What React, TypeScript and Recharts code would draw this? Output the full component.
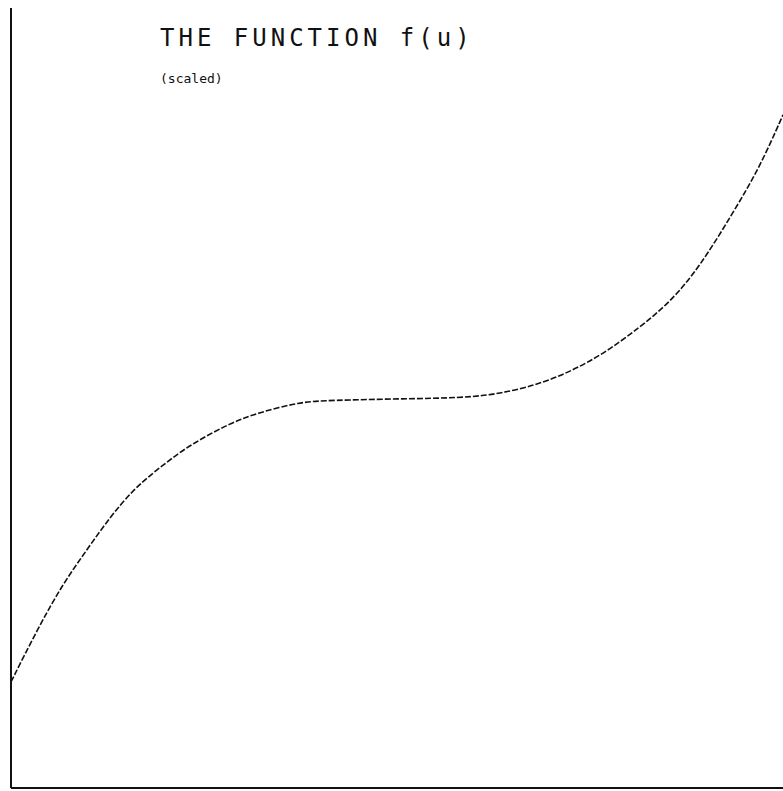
import { LineChart, Line, XAxis, YAxis } from "recharts";

// u values and scaled f(u)
const uValues = [0, 0.34, 0.66, 0.98, 1.28, 1.58, 1.84, 2.1, 2.36, 2.84, 3.2, 3.74, 4.13, 5.04, 5.82, 6.33, 6.98, 7.63, 8.15, 8.54, 8.92, 9.35, 9.7, 10];
const fValues = [1.36, 2.03, 2.6, 3.05, 3.47, 3.82, 4.04, 4.24, 4.42, 4.68, 4.81, 4.95, 4.97, 4.99, 5.0, 5.05, 5.21, 5.53, 5.91, 6.23, 6.68, 7.37, 7.96, 8.63];

const title = "THE FUNCTION f(u)";
const subtitle = "(scaled)";

const data = uValues.map((u, i) => ({ u, f: fValues[i] }));

export default function App() {
  return (
    <div style={{ position: "absolute", left: 0, top: 0, width: 783, height: 791, background: "#fff" }}>
      <LineChart width={783} height={791} data={data} margin={{ top: 8, right: 0, bottom: 2, left: 10 }}>
        <XAxis
          dataKey="u"
          type="number"
          domain={[0, 10]}
          height={1}
          tick={false}
          tickLine={false}
          axisLine={{ stroke: "#111", strokeWidth: 2 }}
        />
        <YAxis
          type="number"
          domain={[0, 10]}
          width={1}
          tick={false}
          tickLine={false}
          axisLine={{ stroke: "#111", strokeWidth: 2 }}
        />
        <Line
          type="basis"
          dataKey="f"
          stroke="#111"
          strokeWidth={1.6}
          strokeDasharray="6 2"
          dot={false}
          isAnimationActive={false}
        />
      </LineChart>
      <div
        style={{
          position: "absolute",
          left: 160,
          top: 26,
          fontFamily: "DejaVu Sans Mono",
          fontSize: 24,
          letterSpacing: 4,
          color: "#111",
          whiteSpace: "pre",
          lineHeight: "24px",
        }}
      >
        {title}
      </div>
      <div
        style={{
          position: "absolute",
          left: 160,
          top: 72,
          fontFamily: "DejaVu Sans Mono",
          fontSize: 13,
          letterSpacing: 0,
          color: "#111",
          lineHeight: "14px",
        }}
      >
        {subtitle}
      </div>
    </div>
  );
}
